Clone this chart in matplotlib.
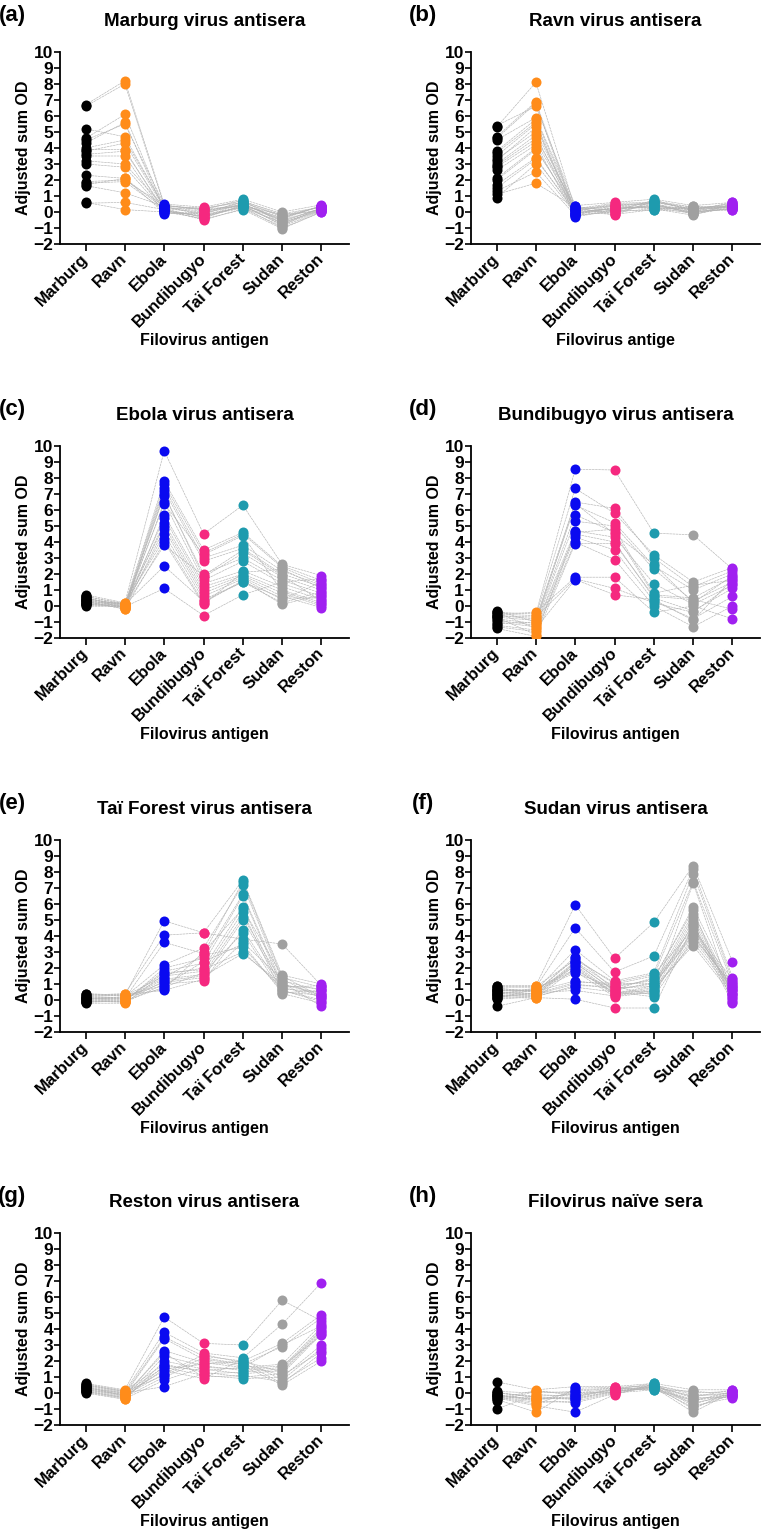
import matplotlib
matplotlib.use("Agg")
import matplotlib.pyplot as plt

plt.rcParams["font.family"] = ["Liberation Sans", "DejaVu Sans"]
plt.rcParams["font.weight"] = "bold"

antigens = ["Marburg", "Ravn", "Ebola", "Bundibugyo", "Taï Forest", "Sudan", "Reston"]
colors = ["#000000", "#FF8C1A", "#0A0AF0", "#F5287F", "#1E9BAE", "#A0A0A0", "#A020F0"]

titles = ["Marburg virus antisera", "Ravn virus antisera", "Ebola virus antisera",
          "Bundibugyo virus antisera", "Taï Forest virus antisera", "Sudan virus antisera",
          "Reston virus antisera", "Filovirus naïve sera"]
panel_labels = ["(a)", "(b)", "(c)", "(d)", "(e)", "(f)", "(g)", "(h)"]
xlabels = ["Filovirus antigen", "Filovirus antige", "Filovirus antigen", "Filovirus antigen",
           "Filovirus antigen", "Filovirus antigen", "Filovirus antigen", "Filovirus antigen"]

# each list: one row per antigen (Marburg ... Reston), one column per serum
marburg_sera = [
    [6.7, 6.6, 5.2, 4.6, 4.5, 4.3, 4.0, 3.9, 3.8, 3.6, 3.5, 3.2, 3.0, 2.3, 1.9, 1.8, 1.7, 1.65, 0.6, 0.55],
    [8.2, 8.0, 4.7, 6.1, 5.5, 5.6, 4.5, 3.9, 4.3, 3.8, 3.5, 3.0, 2.8, 2.1, 2.0, 1.9, 2.1, 1.2, 0.15, 0.6],
    [0.5, 0.4, 0.3, 0.2, 0.45, 0.1, 0.35, 0.0, 0.25, 0.15, -0.1, 0.3, 0.05, 0.2, 0.4, 0.1, -0.05, 0.35, 0.0, 0.15],
    [0.3, 0.2, -0.1, 0.0, 0.1, -0.3, -0.2, -0.4, 0.2, -0.5, -0.1, 0.05, -0.25, -0.35, 0.15, -0.45, -0.15, 0.25, -0.05, -0.3],
    [0.8, 0.7, 0.5, 0.6, 0.4, 0.55, 0.3, 0.45, 0.35, 0.2, 0.65, 0.5, 0.25, 0.4, 0.75, 0.15, 0.3, 0.6, 0.45, 0.35],
    [0.0, -0.2, -0.5, -0.3, -0.8, -0.6, -1.0, -0.4, -0.7, -0.9, -0.1, -0.55, -0.65, -0.35, -0.75, -1.05, -0.45, -0.25, -0.85, -0.15],
    [0.45, 0.3, 0.2, 0.35, 0.1, 0.25, 0.0, 0.4, 0.15, 0.05, 0.3, 0.2, 0.1, 0.35, 0.25, 0.0, 0.4, 0.15, 0.3, 0.05],
]
ravn_sera = [
    [5.4, 5.3, 4.7, 4.6, 4.5, 3.8, 3.7, 3.5, 3.3, 3.2, 3.0, 2.9, 2.8, 2.6, 2.1, 2.0, 1.7, 1.5, 1.3, 1.1, 0.9],
    [6.6, 8.1, 6.9, 6.8, 5.9, 5.8, 5.6, 5.5, 5.0, 5.3, 4.8, 4.6, 4.4, 4.2, 4.0, 3.9, 3.4, 3.3, 2.5, 1.8, 3.0],
    [0.4, 0.2, 0.0, -0.2, 0.3, 0.1, -0.1, -0.3, 0.25, 0.05, -0.15, 0.35, 0.15, -0.25, 0.0, 0.2, -0.05, 0.1, -0.2, 0.3, -0.1],
    [0.6, 0.4, 0.2, 0.0, -0.2, 0.5, 0.3, 0.1, -0.1, 0.45, 0.25, 0.05, 0.35, 0.15, -0.15, 0.55, 0.2, 0.0, 0.3, 0.1, 0.4],
    [0.8, 0.6, 0.4, 0.2, 0.7, 0.5, 0.3, 0.1, 0.65, 0.45, 0.25, 0.75, 0.55, 0.35, 0.15, 0.6, 0.4, 0.5, 0.3, 0.7, 0.2],
    [0.4, 0.2, 0.0, -0.2, 0.3, 0.1, -0.1, 0.35, 0.15, -0.05, 0.25, 0.05, -0.15, 0.2, 0.0, 0.3, 0.1, -0.1, 0.05, 0.15, 0.25],
    [0.6, 0.4, 0.2, 0.5, 0.3, 0.1, 0.45, 0.25, 0.55, 0.35, 0.15, 0.4, 0.3, 0.5, 0.2, 0.35, 0.6, 0.25, 0.45, 0.3, 0.4],
]
ebola_sera = [
    [0.7, 0.6, 0.5, 0.4, 0.3, 0.2, 0.1, 0.0, 0.55, 0.45, 0.35, 0.25, 0.15, 0.05, 0.6, 0.3, 0.2, 0.4, 0.1, 0.5],
    [0.2, 0.1, 0.0, -0.1, -0.2, 0.15, 0.05, -0.05, -0.15, 0.1, 0.0, 0.2, -0.1, 0.05, 0.15, -0.2, 0.0, 0.1, -0.05, 0.05],
    [9.7, 7.8, 7.6, 7.4, 7.2, 7.0, 6.9, 6.5, 5.7, 5.5, 5.2, 5.0, 4.8, 4.5, 4.2, 4.0, 3.8, 2.5, 1.1, 6.4],
    [4.5, 3.5, 3.3, 3.0, 2.8, 1.8, 2.0, 1.6, 1.4, 1.2, 1.0, 0.8, 0.6, 0.4, 0.2, 0.1, 1.9, 0.3, -0.6, 3.2],
    [6.3, 4.6, 4.5, 3.8, 3.6, 3.3, 3.0, 2.8, 2.2, 2.0, 1.9, 1.8, 1.7, 1.5, 1.6, 2.1, 3.5, 1.5, 0.7, 4.4],
    [2.6, 2.5, 2.4, 2.2, 2.0, 1.8, 1.6, 1.4, 1.2, 1.0, 0.8, 0.6, 0.4, 0.2, 0.1, 2.3, 1.9, 0.5, 1.5, 0.9],
    [1.9, 1.6, 1.4, 1.3, 1.2, 1.0, 0.8, 0.6, 0.4, 0.2, 0.0, -0.1, 1.5, 0.9, 0.7, 1.1, 0.3, 0.5, 1.7, 0.1],
]
bundibugyo_sera = [
    [-0.4, -0.5, -0.6, -0.7, -0.3, -0.8, -0.9, -1.0, -1.2, -1.3, -1.4, -0.5, -0.6, -0.4, -0.7, -1.1],
    [-0.5, -0.6, -0.8, -0.9, -1.0, -1.1, -1.2, -1.3, -1.5, -1.6, -1.9, -0.4, -0.7, -1.4, -1.8, -1.0],
    [8.55, 7.35, 6.5, 6.3, 5.7, 5.3, 4.7, 4.5, 4.3, 4.0, 3.9, 1.8, 1.7, 1.65, 4.6, 6.4],
    [8.5, 5.8, 6.1, 5.2, 4.6, 5.0, 4.3, 4.0, 3.5, 2.9, 3.9, 1.8, 1.1, 0.7, 4.8, 4.5],
    [4.55, 3.2, 3.0, 2.5, 0.7, 2.3, 1.4, 0.5, 0.3, 0.0, 0.6, -0.4, 0.2, 0.4, 0.8, 2.6],
    [4.45, 1.5, 1.2, 1.0, 0.5, 0.3, 0.1, -0.3, -0.8, -1.3, 0.4, 0.0, -0.4, -0.9, 1.3, 0.2],
    [2.3, 2.4, 2.2, 2.0, 1.8, 1.5, 1.3, 1.1, 0.6, 0.0, -0.2, -0.8, 1.4, 1.7, 1.6, 1.9],
]
tai_forest_sera = [
    [0.4, 0.3, 0.2, 0.1, 0.0, -0.1, -0.2, 0.35, 0.15, 0.05, -0.05, -0.15, 0.25, 0.0, 0.1, -0.1, 0.2, 0.05],
    [0.3, 0.4, 0.1, 0.2, -0.1, 0.0, -0.2, 0.25, 0.05, 0.15, -0.15, -0.05, 0.35, 0.1, 0.0, -0.1, 0.3, 0.2],
    [4.95, 4.05, 3.6, 2.2, 2.0, 1.8, 1.6, 1.5, 1.3, 1.1, 1.0, 0.8, 0.6, 1.4, 1.7, 1.2, 0.9, 0.7],
    [4.2, 4.2, 2.9, 3.25, 2.6, 2.3, 2.0, 1.8, 1.6, 1.4, 1.2, 1.7, 1.3, 2.8, 1.9, 1.5, 2.4, 3.0],
    [3.8, 7.5, 7.4, 7.2, 6.6, 6.5, 5.8, 5.5, 5.2, 5.0, 4.4, 4.2, 3.6, 3.3, 3.0, 2.9, 3.5, 5.7],
    [3.5, 1.55, 1.4, 1.2, 1.0, 0.8, 0.6, 0.4, 1.1, 0.9, 0.7, 0.5, 1.3, 0.6, 0.8, 1.0, 0.45, 1.5],
    [0.9, 1.0, 0.8, 0.6, 0.4, 0.2, 0.0, -0.2, -0.4, 0.7, 0.5, 0.3, 0.1, -0.1, 0.9, 0.3, 0.6, 0.2],
]
sudan_sera = [
    [0.9, 0.8, 0.7, 0.6, 0.5, 0.4, 0.3, 0.2, 0.1, -0.4, 0.85, 0.65, 0.45, 0.25, 0.15, 0.55, 0.35, 0.75, 0.05, 0.5, 0.3, 0.6],
    [0.9, 0.8, 0.6, 0.5, 0.4, 0.3, 0.2, 0.1, 0.7, 0.15, 0.85, 0.55, 0.35, 0.25, 0.45, 0.65, 0.75, 0.5, 0.2, 0.4, 0.3, 0.6],
    [5.95, 4.5, 3.15, 2.6, 2.4, 2.3, 2.2, 2.0, 1.8, 0.05, 2.5, 1.2, 1.0, 0.8, 0.6, 2.1, 1.9, 2.7, 0.9, 1.1, 2.35, 1.7],
    [2.6, 1.75, 1.2, 1.0, 0.8, 0.6, 0.4, 0.3, 0.2, -0.5, 1.1, 0.9, 0.7, 0.5, 0.25, 0.35, 0.45, 0.65, 0.85, 1.05, 0.55, 0.75],
    [4.85, 2.75, 1.7, 1.5, 1.3, 1.1, 0.9, 0.7, 0.5, -0.5, 1.6, 1.2, 1.0, 0.2, 0.6, 0.8, 0.4, 1.4, 0.3, 1.0, 0.55, 0.85],
    [8.4, 8.2, 7.9, 7.4, 5.8, 5.4, 5.2, 5.0, 4.8, 4.6, 4.4, 4.2, 4.0, 3.8, 3.6, 3.4, 7.3, 5.6, 4.5, 4.1, 3.9, 4.7],
    [2.4, 1.4, 1.2, 1.0, 0.8, 0.6, 0.4, 0.2, 0.0, -0.2, 1.3, 1.1, 0.9, 0.7, 0.5, 0.3, 0.1, -0.1, 0.6, 0.8, 1.0, 0.4],
]
reston_sera = [
    [0.6, 0.5, 0.4, 0.3, 0.2, 0.1, 0.0, 0.55, 0.45, 0.35, 0.25, 0.15, 0.05, 0.3, 0.2, 0.4, 0.1, 0.5],
    [0.2, 0.1, 0.0, -0.1, -0.2, -0.3, -0.4, 0.15, 0.05, -0.05, -0.15, -0.25, -0.35, 0.0, -0.1, -0.2, -0.3, 0.1],
    [4.75, 3.8, 3.5, 3.4, 2.65, 2.3, 2.0, 1.8, 1.6, 1.4, 1.2, 1.0, 0.8, 0.4, 2.5, 1.5, 1.7, 1.1],
    [3.1, 2.5, 2.3, 2.1, 1.9, 1.7, 1.5, 1.3, 1.1, 0.9, 2.4, 2.0, 1.6, 1.2, 1.0, 1.8, 1.4, 2.2],
    [3.0, 2.2, 2.0, 1.8, 1.6, 1.4, 1.2, 1.0, 0.9, 2.1, 1.9, 1.7, 1.5, 1.3, 1.1, 2.0, 1.6, 1.8],
    [5.8, 4.3, 3.1, 2.9, 1.8, 1.6, 1.4, 1.2, 1.0, 0.8, 0.6, 0.5, 1.7, 1.5, 0.7, 1.3, 3.0, 1.1],
    [4.5, 6.9, 4.9, 4.7, 4.3, 4.1, 3.9, 3.7, 3.0, 2.8, 2.5, 2.0, 3.6, 4.0, 2.2, 3.8, 4.2, 2.6],
]
naive_sera = [
    [0.7, 0.1, 0.0, -0.1, -0.2, -0.3, -0.4, -0.5, -1.0, 0.05, -0.15, -0.25, -0.35, 0.0, -0.1, -0.2],
    [0.2, 0.0, -0.2, -0.4, -0.6, -0.8, -1.2, 0.1, -0.1, -0.3, -0.5, -0.7, 0.15, -0.25, -0.45, -0.35],
    [0.4, 0.1, -0.1, -0.3, -0.5, -1.2, 0.3, 0.0, -0.2, -0.4, -0.6, 0.2, -0.15, -0.35, 0.05, -0.25],
    [0.4, 0.3, 0.2, 0.1, 0.0, -0.1, 0.35, 0.25, 0.15, 0.05, -0.05, 0.3, 0.2, 0.1, 0.0, 0.25],
    [0.6, 0.5, 0.4, 0.3, 0.2, 0.55, 0.45, 0.35, 0.25, 0.5, 0.4, 0.3, 0.6, 0.35, 0.45, 0.2],
    [0.2, 0.0, -0.2, -0.4, -0.6, -0.8, -1.0, -1.2, 0.1, -0.1, -0.3, -0.5, -0.7, -0.9, -0.25, -0.45],
    [0.2, 0.1, 0.0, -0.1, -0.2, -0.3, 0.15, 0.05, -0.05, -0.15, -0.25, 0.1, 0.0, -0.1, 0.2, -0.2],
]

panels = [marburg_sera, ravn_sera, ebola_sera, bundibugyo_sera,
          tai_forest_sera, sudan_sera, reston_sera, naive_sera]

W, H = 762, 1532
fig = plt.figure(figsize=(W / 100, H / 100), dpi=100)

col_left = [60, 471]
row_top = [52, 446, 840, 1233]
ax_w, ax_h = 289, 192


def draw_panel(ax, data, title, label, xlabel):
    x = list(range(len(antigens)))
    n = len(data[0])
    # thin grey lines joining each serum across antigens
    for j in range(n):
        ax.plot(x, [data[i][j] for i in x], color="#b4b4b4", lw=0.45,
                ls=(0, (4, 1)), zorder=1)
    for i in x:
        ax.plot([i] * n, data[i], "o", color=colors[i], ms=7.2, mec="none", zorder=3)

    ax.set_xlim(-0.65, 6.7)
    ax.set_ylim(-2, 10)
    ax.set_yticks(range(-2, 11))
    ax.set_xticks(x)
    ax.set_xticklabels(antigens, rotation=45, ha="right", va="center",
                       rotation_mode="anchor", fontsize=12, fontweight="bold")
    ax.tick_params(axis="x", length=5, width=1.2, pad=4)
    ax.tick_params(axis="y", length=4, width=1.2, pad=1, labelsize=12.5)
    for t in ax.get_yticklabels():
        t.set_fontweight("bold")
    for s in ["top", "right"]:
        ax.spines[s].set_visible(False)
    for s in ["left", "bottom"]:
        ax.spines[s].set_linewidth(1.3)

    ax.text(-0.125, 0.5, "Adjusted sum OD", transform=ax.transAxes, rotation=90,
            ha="center", va="center", fontsize=11.5, fontweight="bold")
    ax.text(0.5, 1.16, title, transform=ax.transAxes, ha="center", va="center",
            fontsize=13.5, fontweight="bold")
    ax.text(-0.165, 1.19, label, transform=ax.transAxes, ha="center", va="center",
            fontsize=16, fontweight="bold")
    ax.text(0.5, -0.505, xlabel, transform=ax.transAxes, ha="center", va="center",
            fontsize=11.5, fontweight="bold")


for k, data in enumerate(panels):
    r, c = divmod(k, 2)
    left = col_left[c] / W
    bottom = 1 - (row_top[r] + ax_h) / H
    ax = fig.add_axes([left, bottom, ax_w / W, ax_h / H])
    draw_panel(ax, data, titles[k], panel_labels[k], xlabels[k])

fig.savefig("out.png", dpi=100)
